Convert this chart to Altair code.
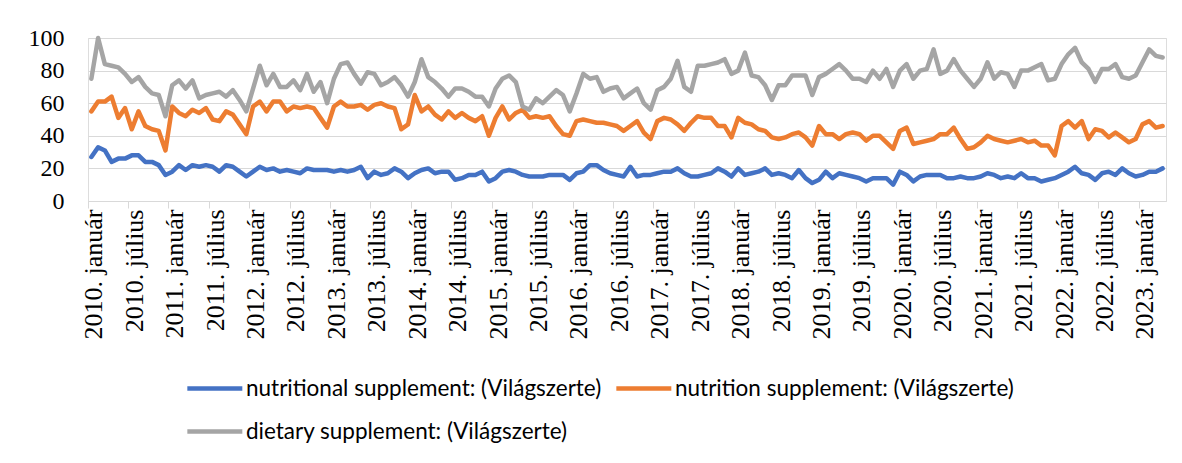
import altair as alt
import pandas as pd

months_hu = ["január", "február", "március", "április", "május", "június",
             "július", "augusztus", "szeptember", "október", "november", "december"]
n_months = 160  # 2010. január – 2023. április
labels = [f"{2010 + i // 12}. {months_hu[i % 12]}" for i in range(n_months)]

series_names = [
    "nutritional supplement: (Világszerte)",
    "nutrition supplement: (Világszerte)",
    "dietary supplement: (Világszerte)",
]
colors = ["#4472C4", "#ED7D31", "#A5A5A5"]
# legend fills column by column: this order gives row 1 = blue, orange; row 2 = gray
legend_order = [series_names[0], series_names[2], series_names[1]]
legend_colors = [colors[0], colors[2], colors[1]]

nutritional = [
    27, 33, 31, 24, 26, 26, 28, 28, 24, 24, 22, 16,
    18, 22, 19, 22, 21, 22, 21, 18, 22, 21, 18, 15,
    18, 21, 19, 20, 18, 19, 18, 17,
    20, 19, 19, 19, 18, 19, 18, 19, 21, 14, 18, 16, 17, 20, 18, 14,
    17, 19, 20, 17, 18, 18, 13, 14, 16, 16, 18, 12, 14, 18, 19, 18,
    16, 15, 15, 15, 16, 16, 16, 13, 17, 18, 22, 22, 19, 17, 16, 15,
    21, 15, 16, 16, 17, 18, 18, 20, 17, 15, 15, 16, 17, 20, 18, 15,
    20, 16, 17, 18, 20, 16, 17, 16, 14, 19, 14, 11, 13, 18, 14, 17,
    16, 15, 14, 12, 14, 14, 14, 10, 18, 16, 12, 15, 16, 16, 16, 14,
    14, 15, 14, 14, 15, 17, 16, 14, 15, 14, 17, 14, 14, 12, 13, 14,
    16, 18, 21, 17, 16, 13, 17, 18, 16, 20, 17, 15, 16, 18, 18, 20,
]
nutrition = [
    55, 61, 61, 64, 51, 57, 44, 55, 46, 44, 43, 31,
    58, 54, 52, 56, 54, 57, 50, 49, 55, 53, 47, 41,
    58, 61, 55, 61, 61, 55, 58, 57,
    58, 57, 51, 45, 58, 61, 58, 58, 59, 56, 59, 60, 58, 57, 44, 47,
    65, 55, 58, 53, 50, 55, 51, 54, 51, 49, 52, 40, 51, 58, 50, 54,
    56, 51, 52, 51, 52, 46, 41, 40, 49, 50, 49, 48, 48, 47, 46, 43,
    46, 49, 42, 38, 49, 51, 50, 47, 43, 48, 52, 51, 51, 46, 46, 39,
    51, 48, 47, 44, 43, 39, 38, 39, 41, 42, 39, 34, 46, 41, 41, 38,
    41, 42, 41, 37, 40, 40, 36, 32, 43, 45, 35, 36, 37, 38, 41, 41,
    45, 38, 32, 33, 36, 40, 38, 37, 36, 37, 38, 36, 37, 34, 34, 28,
    46, 49, 45, 49, 38, 44, 43, 39, 42, 39, 36, 38, 47, 49, 45, 46,
]
dietary = [
    75, 100, 84, 83, 82, 78, 73, 76, 70, 66, 65, 52,
    71, 74, 69, 74, 63, 65, 66, 67, 64, 68, 62, 55,
    69, 83, 71, 78, 70, 70, 74, 68,
    78, 67, 73, 60, 75, 84, 85, 78, 72, 79, 78, 71, 73, 76, 71, 64,
    73, 87, 76, 73, 69, 64, 69, 69, 67, 64, 64, 58, 69, 75, 77, 73,
    58, 56, 63, 60, 64, 68, 65, 55, 66, 78, 75, 76, 67, 69, 70, 63,
    66, 69, 60, 56, 68, 70, 75, 86, 70, 67, 83, 83, 84, 85, 87, 78,
    80, 91, 77, 76, 71, 62, 71, 71, 77, 77, 77, 65, 76, 78, 81, 84,
    80, 75, 75, 73, 80, 75, 81, 70, 80, 84, 75, 80, 81, 93, 78, 80,
    87, 80, 75, 70, 75, 85, 75, 79, 78, 70, 80, 80, 82, 84, 74, 75,
    84, 90, 94, 85, 81, 73, 81, 81, 84, 76, 75, 77, 85, 93, 89, 88,
]

y_ticks = [0, 20, 40, 60, 80, 100]
x_tick_labels = labels[::6]

rows = []
for name, vals in zip(series_names, [nutritional, nutrition, dietary]):
    for i, v in enumerate(vals):
        rows.append({"series": name, "idx": i, "month": labels[i], "value": v})
df = pd.DataFrame(rows)

serif = "Liberation Serif"
sans = "Lato"

chart = (
    alt.Chart(df)
    .mark_line(strokeWidth=4.5, strokeJoin="round", strokeCap="round")
    .encode(
        x=alt.X(
            "month:O",
            sort=labels,
            scale=alt.Scale(type="band", domain=labels, paddingInner=0, paddingOuter=0),
            axis=alt.Axis(
                title=None,
                values=x_tick_labels,
                labelAngle=270,
                labelFont=serif,
                labelFontSize=26,
                labelColor="#000000",
                labelPadding=1,
                labelOverlap=False,
                bandPosition=0,
                labelOffset=3,
                domainColor="#D9D9D9",
                domainWidth=1,
                tickColor="#D9D9D9",
                tickSize=7,
                grid=False,
            ),
        ),
        y=alt.Y(
            "value:Q",
            scale=alt.Scale(domain=[0, 100], nice=False),
            axis=alt.Axis(
                title=None,
                values=y_ticks,
                labelFont=serif,
                labelFontSize=24,
                labelColor="#000000",
                labelPadding=24,
                domain=False,
                ticks=False,
                grid=True,
                gridColor="#D9D9D9",
                gridWidth=1,
            ),
        ),
        color=alt.Color(
            "series:N",
            sort=legend_order,
            scale=alt.Scale(domain=legend_order, range=legend_colors),
            legend=alt.Legend(
                title=None,
                orient="none",
                legendX=97,
                legendY=339,
                columns=2,
                columnPadding=5,
                rowPadding=20,
                symbolType="M-1,0H5",
                symbolSize=336,
                symbolStrokeWidth=4.5,
                labelFont=sans,
                labelFontSize=22.5,
                labelColor="#000000",
                labelOffset=38,
                labelLimit=0,
            ),
        ),
        order=alt.Order("idx:Q"),
    )
    .properties(
        width=1078,
        height=163,
        autosize=alt.AutoSizeParams(type="none"),
        padding={"left": 80, "top": 30, "right": 8, "bottom": 254},
    )
    .configure_view(stroke=None)
    .configure(background="#FFFFFF")
)

chart.save("out.html", embed_options={"renderer": "svg", "actions": False})
